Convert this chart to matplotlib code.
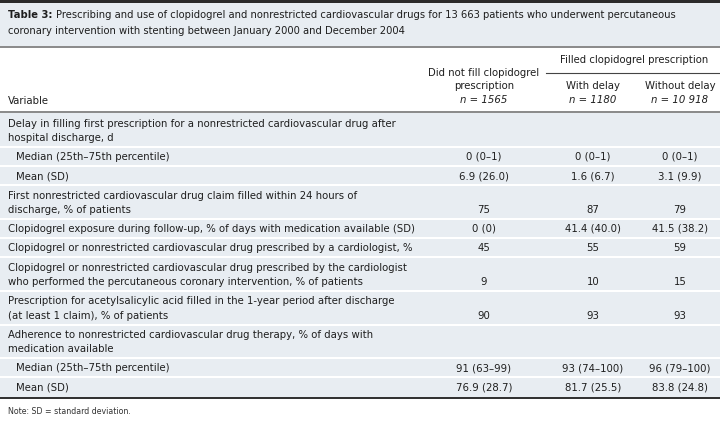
import matplotlib
matplotlib.use("Agg")
import matplotlib.pyplot as plt
from matplotlib.patches import Rectangle

# ---------------- data ----------------
title_bold = "Table 3:"
title_rest = ("Prescribing and use of clopidogrel and nonrestricted cardiovascular drugs for 13 663 patients who underwent percutaneous\n"
              "coronary intervention with stenting between January 2000 and December 2004")

col_headers = ["Did not fill clopidogrel\nprescription", "With delay", "Without delay"]
col_n = ["n = 1565", "n = 1180", "n = 10 918"]
group_header = "Filled clopidogrel prescription"
var_header = "Variable"

row_labels = [
    "Delay in filling first prescription for a nonrestricted cardiovascular drug after\nhospital discharge, d",
    "Median (25th–75th percentile)",
    "Mean (SD)",
    "First nonrestricted cardiovascular drug claim filled within 24 hours of\ndischarge, % of patients",
    "Clopidogrel exposure during follow-up, % of days with medication available (SD)",
    "Clopidogrel or nonrestricted cardiovascular drug prescribed by a cardiologist, %",
    "Clopidogrel or nonrestricted cardiovascular drug prescribed by the cardiologist\nwho performed the percutaneous coronary intervention, % of patients",
    "Prescription for acetylsalicylic acid filled in the 1-year period after discharge\n(at least 1 claim), % of patients",
    "Adherence to nonrestricted cardiovascular drug therapy, % of days with\nmedication available",
    "Median (25th–75th percentile)",
    "Mean (SD)",
]
row_indent = [False, True, True, False, False, False, False, False, False, True, True]

no_fill = ["", "0 (0–1)", "6.9 (26.0)", "75", "0 (0)", "45", "9", "90", "", "91 (63–99)", "76.9 (28.7)"]
with_delay = ["", "0 (0–1)", "1.6 (6.7)", "87", "41.4 (40.0)", "55", "10", "93", "", "93 (74–100)", "81.7 (25.5)"]
without_delay = ["", "0 (0–1)", "3.1 (9.9)", "79", "41.5 (38.2)", "59", "15", "93", "", "96 (79–100)", "83.8 (24.8)"]

note = "Note: SD = standard deviation."

# ---------------- layout ----------------
W, H = 720, 425
fig = plt.figure(figsize=(7.2, 4.25), dpi=100)
ax = fig.add_axes([0, 0, 1, 1])
ax.set_xlim(0, W)
ax.set_ylim(H, 0)
ax.axis("off")

FONT = "DejaVu Sans"
FS = 7.3
TFS = 7.2
band = "#e8edf2"
line_gray = "#8c8c8c"
tc = "#1e1e1e"

# top dark bar and title band
ax.add_patch(Rectangle((0, 0), W, 3, color="#2b2b2b", lw=0))
ax.add_patch(Rectangle((0, 3), W, 43.5, color=band, lw=0))
ax.add_patch(Rectangle((0, 46), W, 2, color=line_gray, lw=0))

# title
t = ax.text(8, 15, title_bold, fontsize=TFS, fontweight="bold", family=FONT, va="center", ha="left", color=tc)
fig.canvas.draw()
bb = t.get_window_extent()
x_after = bb.x1 + 3
title_lines = title_rest.split("\n")
ax.text(x_after, 15, title_lines[0], fontsize=TFS, family=FONT, va="center", ha="left", color=tc)
ax.text(8, 31, title_lines[1], fontsize=TFS, family=FONT, va="center", ha="left", color=tc)

# header
col_x = [484, 593, 680]
ax.text(8, 101, var_header, fontsize=FS, family=FONT, va="center", ha="left", color=tc)
h0 = col_headers[0].split("\n")
ax.text(col_x[0], 73, h0[0], fontsize=FS, family=FONT, va="center", ha="center", color=tc)
ax.text(col_x[0], 86, h0[1], fontsize=FS, family=FONT, va="center", ha="center", color=tc)
ax.text(col_x[1], 86, col_headers[1], fontsize=FS, family=FONT, va="center", ha="center", color=tc)
ax.text(col_x[2], 86, col_headers[2], fontsize=FS, family=FONT, va="center", ha="center", color=tc)
for cx, n in zip(col_x, col_n):
    ax.text(cx, 99.5, n, fontsize=FS, family=FONT, style="italic", va="center", ha="center", color=tc)
ax.text(634, 60, group_header, fontsize=FS, family=FONT, va="center", ha="center", color=tc)
ax.plot([546, W], [72.7, 72.7], color="#444444", lw=0.8)
ax.add_patch(Rectangle((0, 111), W, 2.2, color=line_gray, lw=0))

# body
top = 113.2
bottom = 396.5
nlines = [len(l.split("\n")) for l in row_labels]
units = [1.76 if n == 2 else 1.0 for n in nlines]
unit_h = (bottom - top) / sum(units)
ax.add_patch(Rectangle((0, top), W, bottom - top, color=band, lw=0))
y = top
for i, lab in enumerate(row_labels):
    h = units[i] * unit_h
    lines = lab.split("\n")
    x0 = 16 if row_indent[i] else 8
    if len(lines) == 1:
        ys = [y + h / 2 + 0.5]
    else:
        ys = [y + h / 2 - 6.3, y + h / 2 + 8.0]
    for ly, txt in zip(ys, lines):
        ax.text(x0, ly, txt, fontsize=FS, family=FONT, va="center", ha="left", color=tc)
    for cx, vals in zip(col_x, [no_fill, with_delay, without_delay]):
        ax.text(cx, ys[-1], vals[i], fontsize=FS, family=FONT, va="center", ha="center", color=tc)
    y += h
    if i < len(row_labels) - 1:
        ax.plot([0, W], [y, y], color="white", lw=1.5)

ax.add_patch(Rectangle((0, bottom), W, 2.6, color="#333333", lw=0))
ax.text(8, 412, note, fontsize=5.7, family=FONT, va="center", ha="left", color="#333333")

fig.savefig("out.png", dpi=100)
